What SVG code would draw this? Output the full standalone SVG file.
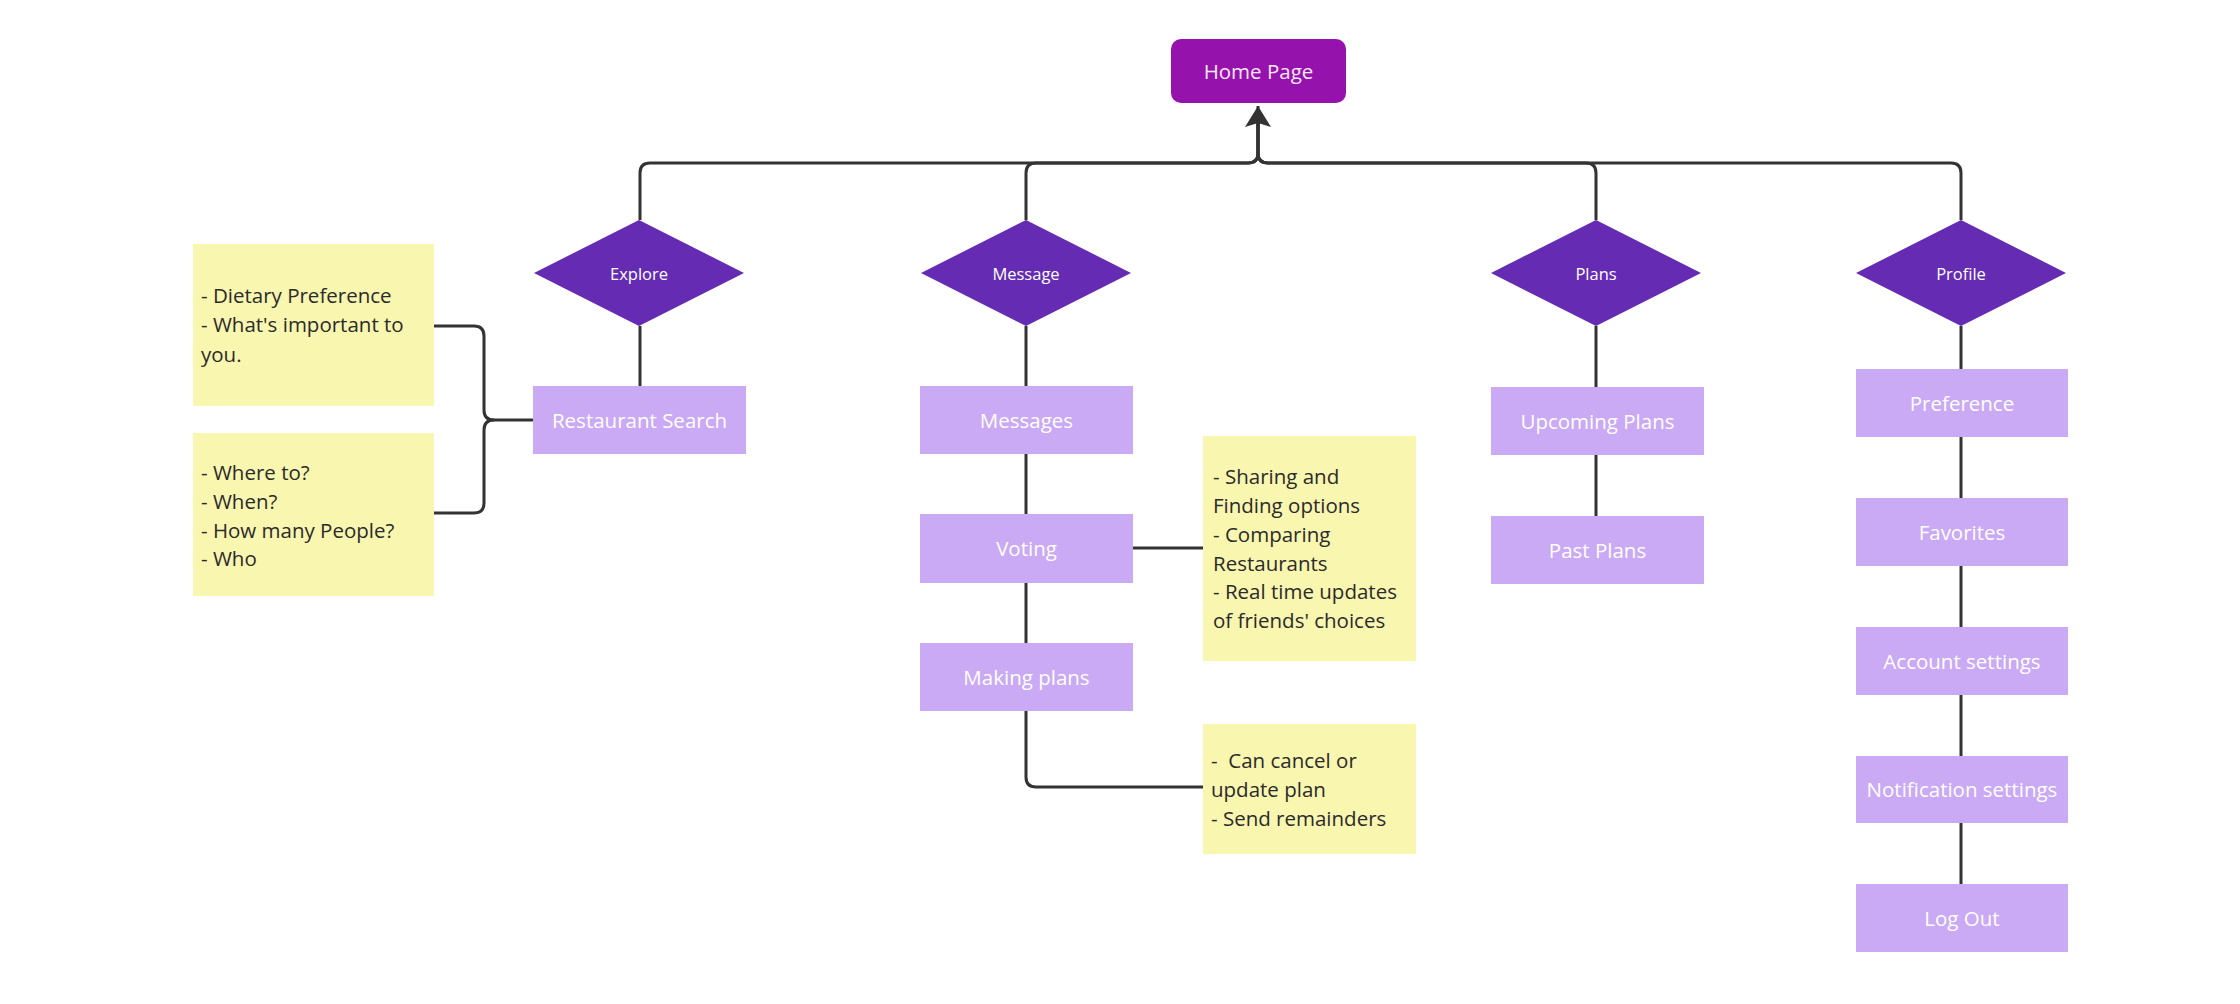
<svg xmlns="http://www.w3.org/2000/svg" width="2240" height="1004" viewBox="0 0 2240 1004">
<defs>
<style>
.home{fill:#9512AD}
.dia{fill:#652CB3}
.box{fill:#CAAAF4}
.note{fill:#F9F6B0}
.lbl{font-family:"Open Sans","Liberation Sans",sans-serif;fill:#FFFFFF;text-anchor:middle;dominant-baseline:central}
.hl{font-size:20.5px;fill:#FBE8FB}
.dl{font-size:16.5px}
.bl{font-size:20.5px}
.nt{font-family:"Open Sans","Liberation Sans",sans-serif;font-size:20.5px;fill:#2B2B2B}
.c{fill:none;stroke:#333333;stroke-width:3;stroke-linejoin:round}
</style>
<marker id="arr" markerUnits="userSpaceOnUse" markerWidth="30" markerHeight="30" viewBox="-2 -15 25 30" refX="21" refY="0" orient="auto">
<path d="M0,-13 L21,0 L0,13 L4,0 Z" fill="#333333"/>
</marker>
</defs>
<rect width="2240" height="1004" fill="#FFFFFF"/>

<g id="connectors">
<path class="c" d="M640,220 V173 Q640,163 650,163 H1248 Q1258,163 1258,153 V120"/>
<path class="c" d="M1026,220 V173 Q1026,163 1036,163 H1248 Q1258,163 1258,153 V120"/>
<path class="c" d="M1596,220 V173 Q1596,163 1586,163 H1268 Q1258,163 1258,153 V120"/>
<path class="c" d="M1961,220 V173 Q1961,163 1951,163 H1268 Q1258,163 1258,153 V106" marker-end="url(#arr)"/>
<path class="c" d="M640,326 V386"/>
<path class="c" d="M434,326 H474 Q484,326 484,336 V410 Q484,420 494,420 H533"/>
<path class="c" d="M434,513 H474 Q484,513 484,503 V430 Q484,420 494,420"/>
<path class="c" d="M1026,326 V386"/>
<path class="c" d="M1026,454 V514"/>
<path class="c" d="M1026,583 V643"/>
<path class="c" d="M1133,548 H1203"/>
<path class="c" d="M1026,711 V777 Q1026,787 1036,787 H1203"/>
<path class="c" d="M1596,326 V387"/>
<path class="c" d="M1596,455 V516"/>
<path class="c" d="M1961,326 V369"/>
<path class="c" d="M1961,437 V498"/>
<path class="c" d="M1961,566 V627"/>
<path class="c" d="M1961,695 V756"/>
<path class="c" d="M1961,823 V884"/>
</g>

<g id="home-page">
<rect class="home" x="1171" y="39" width="175" height="64" rx="10"/>
<text class="lbl hl" x="1258.5" y="71">Home Page</text>
</g>

<g id="explore">
<polygon class="dia" points="534,273 639,220 744,273 639,326"/>
<text class="lbl dl" x="639" y="273">Explore</text>
</g>
<g id="message">
<polygon class="dia" points="921,273 1026,220 1131,273 1026,326"/>
<text class="lbl dl" x="1026" y="273">Message</text>
</g>
<g id="plans">
<polygon class="dia" points="1491,273 1596,220 1701,273 1596,326"/>
<text class="lbl dl" x="1596" y="273">Plans</text>
</g>
<g id="profile">
<polygon class="dia" points="1856,273 1961,220 2066,273 1961,326"/>
<text class="lbl dl" x="1961" y="273">Profile</text>
</g>

<g id="restaurant-search">
<rect class="box" x="533" y="386" width="213" height="68"/>
<text class="lbl bl" x="639.5" y="420">Restaurant Search</text>
</g>
<g id="note-dietary">
<rect class="note" x="193" y="244" width="241" height="162"/>
<text class="nt" x="201"><tspan x="201" y="303">- Dietary Preference</tspan><tspan x="201" y="332">- What's important to</tspan><tspan x="201" y="362">you.</tspan></text>
</g>
<g id="note-where">
<rect class="note" x="193" y="433" width="241" height="163"/>
<text class="nt" x="201"><tspan x="201" y="480">- Where to?</tspan><tspan x="201" y="509">- When?</tspan><tspan x="201" y="538">- How many People?</tspan><tspan x="201" y="566">- Who</tspan></text>
</g>

<g id="messages">
<rect class="box" x="920" y="386" width="213" height="68"/>
<text class="lbl bl" x="1026.5" y="420">Messages</text>
</g>
<g id="voting">
<rect class="box" x="920" y="514" width="213" height="69"/>
<text class="lbl bl" x="1026.5" y="548">Voting</text>
</g>
<g id="making-plans">
<rect class="box" x="920" y="643" width="213" height="68"/>
<text class="lbl bl" x="1026.5" y="677">Making plans</text>
</g>
<g id="note-voting">
<rect class="note" x="1203" y="436" width="213" height="225"/>
<text class="nt"><tspan x="1213" y="484">- Sharing and</tspan><tspan x="1213" y="513">Finding options</tspan><tspan x="1213" y="542">- Comparing</tspan><tspan x="1213" y="571">Restaurants</tspan><tspan x="1213" y="599">- Real time updates</tspan><tspan x="1213" y="628">of friends' choices</tspan></text>
</g>
<g id="note-plans">
<rect class="note" x="1203" y="724" width="213" height="130"/>
<text class="nt" xml:space="preserve"><tspan x="1211" y="768">-  Can cancel or</tspan><tspan x="1211" y="797">update plan</tspan><tspan x="1211" y="826">- Send remainders</tspan></text>
</g>

<g id="upcoming-plans">
<rect class="box" x="1491" y="387" width="213" height="68"/>
<text class="lbl bl" x="1597.5" y="421">Upcoming Plans</text>
</g>
<g id="past-plans">
<rect class="box" x="1491" y="516" width="213" height="68"/>
<text class="lbl bl" x="1597.5" y="550">Past Plans</text>
</g>

<g id="preference">
<rect class="box" x="1856" y="369" width="212" height="68"/>
<text class="lbl bl" x="1962" y="403">Preference</text>
</g>
<g id="favorites">
<rect class="box" x="1856" y="498" width="212" height="68"/>
<text class="lbl bl" x="1962" y="532">Favorites</text>
</g>
<g id="account-settings">
<rect class="box" x="1856" y="627" width="212" height="68"/>
<text class="lbl bl" x="1962" y="661">Account settings</text>
</g>
<g id="notification-settings">
<rect class="box" x="1856" y="756" width="212" height="67"/>
<text class="lbl bl" x="1962" y="789">Notification settings</text>
</g>
<g id="log-out">
<rect class="box" x="1856" y="884" width="212" height="68"/>
<text class="lbl bl" x="1962" y="918">Log Out</text>
</g>
</svg>
